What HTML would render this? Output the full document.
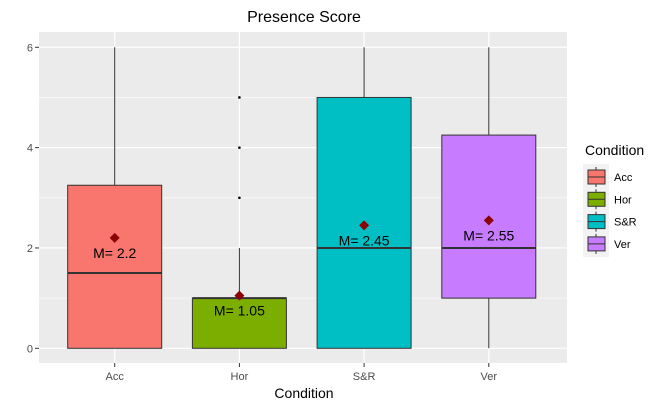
<!DOCTYPE html>
<html><head><meta charset="utf-8"><style>
body{margin:0;background:#fff;font-family:"Liberation Sans",Arial,sans-serif}
</style></head><body>
<svg id="c" width="661" height="408" xmlns="http://www.w3.org/2000/svg" font-family="Liberation Sans, Arial, sans-serif">
<text x="304" y="22" text-anchor="middle" font-size="16" fill="#000">Presence Score</text>
<rect x="39" y="32" width="528" height="331" fill="#ebebeb"/>
<g id="grid"></g><g id="marks"></g><g id="axes"></g>
<text x="304" y="398" text-anchor="middle" font-size="14">Condition</text>
<g id="legend">
<text x="585" y="155" font-size="14">Condition</text>
<rect x="583" y="164" width="26" height="93" fill="#f2f2f2"/>
</g>
</svg>
<script>
const categories=["Acc","Hor","S&R","Ver"];
const colors=["#f8766d","#7cae00","#00bfc4","#c77cff"];
const lowerWhisker=[0,0,0,0];
const q1=[0,0,0,1];
const medians=[1.5,1,2,2];
const q3=[3.25,1,5,4.25];
const upperWhisker=[6,2,6,6];
const means=[2.2,1.05,2.45,2.55];
const meanLabels=["M= 2.2","M= 1.05","M= 2.45","M= 2.55"];
const outlierCat=[1,1,1];
const outlierVal=[3,4,5];
const yTicks=[0,2,4,6];
const NS="http://www.w3.org/2000/svg";
const y=v=>348.3-v*50.17;
const x=i=>114.7+i*124.7;
const bw=94;
function mk(p,t,a){const e=document.createElementNS(NS,t);for(const k in a)e.setAttribute(k,a[k]);document.getElementById(p).appendChild(e);return e;}
[1,3,5].forEach(v=>{const l=mk('grid','line',{x1:39,x2:567,y1:y(v),y2:y(v),stroke:'#fff','stroke-width':0.6});

});
yTicks.forEach(v=>{const l=mk('grid','line',{x1:39,x2:567,y1:y(v),y2:y(v),stroke:'#fff','stroke-width':1.2});


const t=mk('axes','text',{x:33,y:y(v)+4,'text-anchor':'end','font-size':11,fill:'#4d4d4d'});t.textContent=v;


mk('axes','line',{x1:35,x2:39,y1:y(v),y2:y(v),stroke:'#333'});});
categories.forEach((c,i)=>{const cx=x(i);
const g=mk('grid','line',{x1:cx,x2:cx,y1:32,y2:363,stroke:'#fff','stroke-width':1.2});


mk('axes','line',{x1:cx,x2:cx,y1:363,y2:367,stroke:'#333'});
const t=mk('axes','text',{x:cx,y:380,'text-anchor':'middle','font-size':11,fill:'#4d4d4d'});t.textContent=c;


const w=mk('marks','line',{x1:cx,x2:cx,y1:y(upperWhisker[i]),y2:y(lowerWhisker[i]),stroke:'#333','stroke-width':1});


const b=mk('marks','rect',{x:cx-bw/2,y:y(q3[i]),width:bw,height:Math.max(y(q1[i])-y(q3[i]),0.5),fill:colors[i],stroke:'#333','stroke-width':1});


const m=mk('marks','line',{x1:cx-bw/2,x2:cx+bw/2,y1:y(medians[i]),y2:y(medians[i]),stroke:'#333','stroke-width':2});


const my=y(means[i]);
const d=mk('marks','polygon',{points:`${cx},${my-5} ${cx+5},${my} ${cx},${my+5} ${cx-5},${my}`,fill:'#8b0000'});


const t2=mk('marks','text',{x:cx,y:my+20,'text-anchor':'middle','font-size':14,fill:'#000'});t2.textContent=meanLabels[i];


const ly=177+i*22.3;
mk('legend','line',{x1:596,x2:596,y1:ly-10,y2:ly+10,stroke:'#333'});
const k=mk('legend','rect',{x:588,y:ly-7,width:17,height:14,fill:colors[i],stroke:'#333'});


mk('legend','line',{x1:588,x2:605,y1:ly,y2:ly,stroke:'#333'});
const lt=mk('legend','text',{x:614,y:ly+4,'font-size':11,fill:'#000'});lt.textContent=c;


});
outlierVal.forEach((v,j)=>{const o=mk('marks','circle',{cx:x(outlierCat[j]),cy:y(v),r:1.3,fill:'#000'});

});
</script>
</body></html>
